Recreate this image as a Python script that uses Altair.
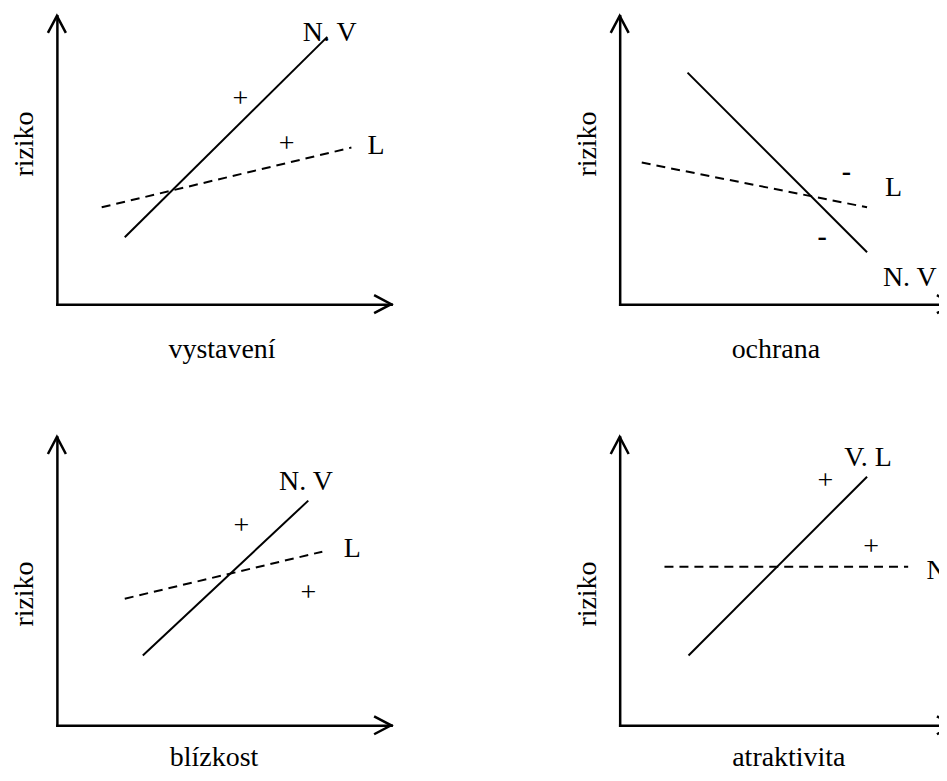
import altair as alt
import pandas as pd

# ---------------- data (0-10 units per axis) ----------------
X_TITLES = ["vystavení", "ochrana", "blízkost", "atraktivita"]
Y_TITLE = "riziko"

SOLID_X = [[2.03, 8.09], [2.03, 7.40], [2.57, 7.52], [2.06, 7.40]]
SOLID_Y = [[2.32, 9.27], [8.03, 1.80], [2.42, 7.79], [2.42, 8.62]]

DASH_X = [[1.34, 8.81], [0.66, 7.40], [2.03, 7.94], [1.34, 8.63]]
DASH_Y = [[3.36, 5.43], [4.91, 3.36], [4.39, 6.02], [5.50, 5.50]]

SIGN_TEXT = [["+", "+"], ["-", "-"], ["+", "+"], ["+", "+"]]
SIGN_X = [[5.49, 6.87], [6.78, 6.06], [5.52, 7.52], [6.15, 7.52]]
SIGN_Y = [[7.13, 5.54], [4.57, 2.32], [6.92, 4.57], [8.48, 6.19]]

LABEL_TEXT = [["N. V", "L"], ["L", "N. V"], ["N. V", "L"], ["V. L", "N"]]
LABEL_X = [[8.16, 9.55], [8.19, 8.68], [7.45, 8.84], [7.43, 9.48]]
LABEL_Y = [[9.41, 5.48], [4.03, 0.90], [8.45, 6.12], [9.27, 5.36]]

AXIS_MAX = 10

# ---------------- styling / layout ----------------
FONT = "Liberation Serif"
FS = 28
W, H = 335, 289
X_TITLE_X = [165, 156, 157, 169]
X_TITLE_Y = [53, 53, 40, 40]
Y_TITLE_Y = [128, 128, 157, 157]

RIGHT_ARROW = "M-1.9,-1L0,0L-1.9,1"
UP_ARROW = "M-1,1.9L0,0L1,1.9"


def panel(i):
    xs = alt.Scale(domain=[0, AXIS_MAX], nice=False, zero=False)
    ys = alt.Scale(domain=[0, AXIS_MAX], nice=False, zero=False)
    xenc = alt.X("x:Q", scale=xs, axis=alt.Axis(
        title=X_TITLES[i], titleX=X_TITLE_X[i], titleY=X_TITLE_Y[i],
        titleBaseline="alphabetic", titleAlign="center"))
    yenc = alt.Y("y:Q", scale=ys, axis=alt.Axis(
        title=Y_TITLE, titleX=-24, titleY=Y_TITLE_Y[i], titleAngle=270,
        titleBaseline="alphabetic", titleAlign="center"))

    solid = alt.Chart(pd.DataFrame({"x": SOLID_X[i], "y": SOLID_Y[i]})).mark_line(
        color="black", strokeWidth=2).encode(x=xenc, y=yenc)
    dashed = alt.Chart(pd.DataFrame({"x": DASH_X[i], "y": DASH_Y[i]})).mark_line(
        color="black", strokeWidth=2, strokeDash=[9, 6]).encode(x=xenc, y=yenc)
    texts = pd.DataFrame({
        "x": SIGN_X[i] + LABEL_X[i],
        "y": SIGN_Y[i] + LABEL_Y[i],
        "t": SIGN_TEXT[i] + LABEL_TEXT[i],
    })
    txt = alt.Chart(texts).transform_filter(alt.datum.t != "-").mark_text(
        font=FONT, fontSize=FS, color="black", align="center", baseline="middle"
    ).encode(x=xenc, y=yenc, text="t:N")
    minus = alt.Chart(texts).transform_filter(alt.datum.t == "-").mark_text(
        font=FONT, fontSize=FS, fontWeight="bold", color="black",
        align="center", baseline="middle"
    ).encode(x=xenc, y=yenc, text="t:N")
    arr_x = alt.Chart(pd.DataFrame({"x": [AXIS_MAX], "y": [0]})).mark_point(
        shape=RIGHT_ARROW, size=324, filled=False, color="black",
        strokeWidth=2.5, opacity=1).encode(x=xenc, y=yenc)
    arr_y = alt.Chart(pd.DataFrame({"x": [0], "y": [AXIS_MAX]})).mark_point(
        shape=UP_ARROW, size=324, filled=False, color="black",
        strokeWidth=2.5, opacity=1).encode(x=xenc, y=yenc)
    return alt.layer(solid, dashed, txt, minus, arr_x, arr_y).properties(width=W, height=H)


chart = alt.concat(
    *[panel(i) for i in range(4)],
    columns=2,
    spacing={"row": 133, "column": 229},
    bounds="flush",
).properties(
    padding={"left": 3, "top": 2, "right": -20, "bottom": 0},
    background="white",
).configure_view(strokeWidth=0).configure_axis(
    domainColor="black", domainWidth=2.5, domainCap="square",
    ticks=False, labels=False, grid=False,
    titleFont=FONT, titleFontSize=FS, titleFontWeight="normal", titleColor="black",
)

chart.save("out.html", embed_options={"renderer": "svg", "actions": False})
